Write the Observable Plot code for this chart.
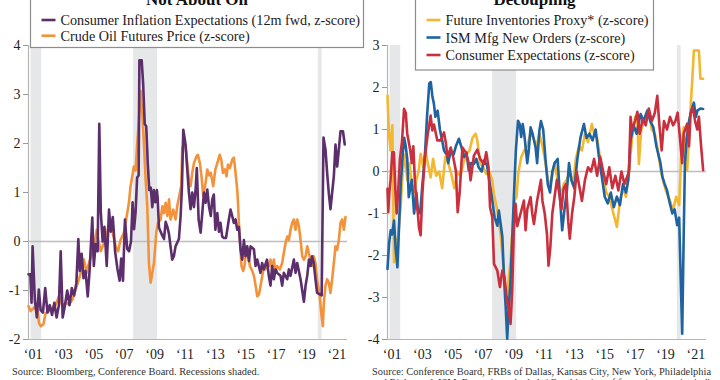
<!DOCTYPE html>
<html><head><meta charset="utf-8">
<script src="https://cdn.jsdelivr.net/npm/d3@7"></script>
<script src="https://cdn.jsdelivr.net/npm/@observablehq/plot@0.6"></script>
<style>
body{margin:0;background:#fff;}
#wrap{position:relative;width:720px;height:380px;overflow:hidden;font-family:"Liberation Serif",serif;}
.panel{position:absolute;top:0;}
#overlay{position:absolute;left:0;top:0;pointer-events:none;}
</style></head>
<body><div id="wrap"><div id="left" class="panel" style="left:0"></div><div id="right" class="panel" style="left:359px"></div></div>
<script>
// ---------- data ----------
const tickYears = [2001,2003,2005,2007,2009,2011,2013,2015,2017,2019,2021];
const recessions = [[2001.17,2001.87],[2007.92,2009.5],[2020.08,2020.33]];

// Left panel: Consumer Inflation Expectations (12m fwd, z-score)  [decimal year, z]
const inflExp = [[2001.0,-0.67],[2001.12,-0.67],[2001.2,-1.25],[2001.27,-0.1],[2001.42,-1.2],[2001.55,-1.55],[2001.68,-0.98],[2001.8,-1.4],[2001.95,-1.45],[2002.1,-0.95],[2002.25,-1.45],[2002.4,-1.3],[2002.55,-1.5],[2002.7,-1.25],[2002.85,-1.55],[2003.0,-1.3],[2003.12,-0.2],[2003.25,-1.55],[2003.4,-1.3],[2003.55,-1.0],[2003.7,-1.3],[2003.85,-0.95],[2004.0,-1.1],[2004.15,-0.85],[2004.28,0.05],[2004.38,-0.6],[2004.5,-0.25],[2004.62,-0.75],[2004.75,-0.6],[2004.9,-1.12],[2005.02,-0.6],[2005.2,0.49],[2005.3,-0.5],[2005.42,-0.05],[2005.55,-0.2],[2005.66,2.4],[2005.76,0.6],[2005.88,0.0],[2006.0,0.3],[2006.15,-0.5],[2006.3,0.65],[2006.42,0.2],[2006.55,0.5],[2006.7,-0.2],[2006.85,-0.55],[2007.0,-0.8],[2007.1,-0.35],[2007.22,-0.8],[2007.35,0.45],[2007.5,-0.15],[2007.62,-0.2],[2007.75,0.0],[2007.85,0.8],[2007.95,0.25],[2008.05,0.6],[2008.15,1.3],[2008.25,1.35],[2008.3,3.7],[2008.45,3.7],[2008.55,3.2],[2008.65,2.4],[2008.75,2.35],[2008.85,1.6],[2008.95,1.05],[2009.05,1.1],[2009.15,0.7],[2009.25,1.05],[2009.35,0.8],[2009.45,1.05],[2009.5,0.9],[2009.59,0.28],[2009.7,0.2],[2009.81,0.12],[2009.92,0.05],[2010.03,0.4],[2010.14,0.3],[2010.25,0.15],[2010.35,-0.1],[2010.46,-0.37],[2010.57,-0.3],[2010.68,-0.1],[2010.9,0.05],[2011.01,0.5],[2011.1,1.1],[2011.19,2.28],[2011.34,1.98],[2011.45,1.47],[2011.56,1.0],[2011.67,0.66],[2011.78,1.0],[2011.89,0.7],[2012.0,1.06],[2012.08,1.5],[2012.2,0.45],[2012.33,0.18],[2012.44,0.58],[2012.55,1.0],[2012.66,0.79],[2012.77,1.06],[2012.88,0.72],[2013.0,0.52],[2013.1,0.86],[2013.2,0.96],[2013.3,0.24],[2013.43,0.58],[2013.54,0.2],[2013.64,0.38],[2013.75,0.1],[2013.86,0.07],[2014.0,0.07],[2014.19,0.45],[2014.3,0.65],[2014.41,0.52],[2014.52,0.38],[2014.63,0.45],[2014.74,0.24],[2014.85,0.3],[2014.96,-0.17],[2015.07,-0.37],[2015.18,0.03],[2015.29,-0.3],[2015.4,-0.1],[2015.51,-0.4],[2015.62,-0.1],[2015.84,-0.16],[2015.95,-0.5],[2016.06,-0.37],[2016.27,-0.64],[2016.38,-0.44],[2016.49,-0.57],[2016.7,-0.37],[2016.82,-0.7],[2016.93,-0.9],[2017.04,-0.5],[2017.15,-0.77],[2017.26,-0.57],[2017.37,-0.64],[2017.59,-0.7],[2017.7,-0.9],[2017.81,-0.64],[2018.03,-0.77],[2018.14,-0.57],[2018.25,-0.7],[2018.47,-0.37],[2018.58,-0.64],[2018.69,-0.44],[2018.91,-0.77],[2019.13,-1.23],[2019.24,-0.9],[2019.35,-0.7],[2019.46,-0.37],[2019.57,-0.5],[2019.67,-0.3],[2019.78,-0.44],[2019.89,-0.77],[2020.0,-1.05],[2020.18,-1.08],[2020.3,-1.1],[2020.42,2.12],[2020.55,1.88],[2020.66,1.4],[2020.77,0.98],[2020.88,0.66],[2020.99,1.0],[2021.1,1.33],[2021.21,1.98],[2021.32,1.53],[2021.43,1.88],[2021.54,2.25],[2021.7,2.25],[2021.82,1.98]];

// Left panel: Crude Oil Futures Price (z-score)
const crudeOil = [[2001.0,-1.32],[2001.14,-1.42],[2001.36,-1.35],[2001.6,-1.4],[2001.69,-1.66],[2001.8,-1.73],[2001.98,-1.69],[2002.13,-1.46],[2002.35,-1.42],[2002.57,-1.35],[2002.79,-1.29],[2003.0,-1.12],[2003.12,-1.2],[2003.23,-1.32],[2003.45,-1.25],[2003.67,-1.29],[2003.9,-1.18],[2004.1,-0.98],[2004.32,-0.77],[2004.5,-0.57],[2004.65,-0.37],[2004.83,-0.64],[2004.98,-0.44],[2005.13,-0.3],[2005.3,-0.16],[2005.49,0.24],[2005.6,0.03],[2005.75,-0.2],[2005.97,-0.03],[2006.19,0.2],[2006.36,0.45],[2006.5,0.24],[2006.74,-0.1],[2006.9,-0.2],[2007.06,0.03],[2007.28,0.18],[2007.5,0.58],[2007.61,0.79],[2007.72,1.13],[2007.83,1.33],[2007.94,1.53],[2008.05,1.45],[2008.16,2.01],[2008.27,2.49],[2008.38,3.07],[2008.49,2.62],[2008.6,2.01],[2008.71,1.27],[2008.82,0.72],[2008.93,-0.44],[2009.04,-0.84],[2009.15,-0.64],[2009.26,-0.44],[2009.41,0.18],[2009.52,0.38],[2009.7,0.45],[2009.81,0.72],[2009.92,0.58],[2010.03,0.79],[2010.14,0.52],[2010.25,0.86],[2010.35,0.45],[2010.53,0.65],[2010.68,0.45],[2010.79,0.72],[2010.97,1.0],[2011.06,1.15],[2011.12,1.88],[2011.23,2.04],[2011.34,1.94],[2011.45,1.6],[2011.56,1.27],[2011.67,1.13],[2011.78,1.4],[2011.89,1.6],[2012.06,1.74],[2012.15,1.77],[2012.28,1.6],[2012.39,1.33],[2012.5,0.93],[2012.66,1.2],[2012.77,1.47],[2012.88,1.35],[2013.0,1.4],[2013.16,1.13],[2013.3,1.47],[2013.47,1.64],[2013.58,1.77],[2013.69,1.67],[2013.8,1.4],[2013.93,1.47],[2014.04,1.33],[2014.13,1.57],[2014.26,1.5],[2014.41,1.67],[2014.52,1.71],[2014.63,1.4],[2014.74,1.06],[2014.78,0.86],[2014.85,0.38],[2014.96,-0.17],[2015.02,-0.5],[2015.13,-0.6],[2015.22,-0.5],[2015.35,-0.1],[2015.44,-0.17],[2015.57,-0.5],[2015.73,-0.6],[2015.84,-0.7],[2015.95,-0.9],[2016.06,-1.12],[2016.17,-1.08],[2016.28,-0.9],[2016.39,-0.7],[2016.5,-0.5],[2016.6,-0.57],[2016.71,-0.44],[2016.82,-0.5],[2016.93,-0.37],[2017.04,-0.57],[2017.15,-0.37],[2017.26,-0.64],[2017.37,-0.5],[2017.55,-0.57],[2017.7,-0.44],[2017.81,-0.23],[2017.92,-0.03],[2018.03,0.1],[2018.14,0.03],[2018.25,0.24],[2018.36,0.38],[2018.47,0.45],[2018.58,0.24],[2018.69,0.45],[2018.8,0.31],[2018.91,0.03],[2019.02,-0.3],[2019.13,-0.37],[2019.24,-0.3],[2019.35,-0.1],[2019.45,-0.23],[2019.57,-0.37],[2019.68,-0.5],[2019.78,-0.3],[2019.89,-0.44],[2020.0,-0.77],[2020.15,-1.05],[2020.27,-1.45],[2020.38,-1.73],[2020.44,-1.25],[2020.55,-0.9],[2020.66,-0.77],[2020.77,-0.84],[2020.88,-1.05],[2020.99,-0.77],[2021.1,-0.44],[2021.21,-0.1],[2021.32,-0.17],[2021.43,0.03],[2021.54,0.38],[2021.65,0.45],[2021.76,0.24],[2021.87,0.5]];

// Right panel: Future Inventories Proxy* (z-score)
const futInv = [[2001.0,1.81],[2001.1,0.9],[2001.2,0.5],[2001.32,1.1],[2001.43,-2.16],[2001.55,-1.6],[2001.65,-2.0],[2001.75,-1.33],[2001.87,-0.8],[2002.0,0.0],[2002.15,0.4],[2002.3,-0.2],[2002.45,0.2],[2002.6,-0.3],[2002.75,-0.5],[2002.9,-0.2],[2003.05,0.0],[2003.18,0.42],[2003.35,0.1],[2003.5,0.5],[2003.65,0.2],[2003.84,-0.14],[2004.0,0.3],[2004.2,-0.1],[2004.4,0.0],[2004.6,-0.4],[2004.8,0.34],[2005.0,0.2],[2005.2,-0.06],[2005.4,-0.4],[2005.6,0.0],[2005.8,-0.1],[2006.0,0.2],[2006.2,0.42],[2006.4,0.5],[2006.6,0.81],[2006.8,0.9],[2006.91,0.74],[2007.1,0.2],[2007.3,0.1],[2007.5,-0.06],[2007.7,0.0],[2007.9,-0.21],[2008.0,-0.53],[2008.23,-0.93],[2008.45,-1.5],[2008.67,-2.44],[2008.78,-2.83],[2008.88,-3.0],[2008.99,-2.5],[2009.1,-2.12],[2009.21,-1.5],[2009.37,-0.69],[2009.5,-0.6],[2009.6,-0.06],[2009.8,0.34],[2010.0,0.5],[2010.2,0.6],[2010.4,0.9],[2010.6,0.8],[2010.8,0.6],[2011.0,0.9],[2011.2,0.6],[2011.4,0.2],[2011.6,-0.3],[2011.8,-0.2],[2012.0,0.2],[2012.2,-0.2],[2012.4,-0.6],[2012.6,-0.3],[2012.8,-0.2],[2013.0,0.0],[2013.2,-0.3],[2013.4,0.3],[2013.6,0.6],[2013.8,0.5],[2014.0,0.9],[2014.2,0.7],[2014.45,1.13],[2014.6,0.9],[2014.8,0.8],[2015.0,0.3],[2015.2,-0.1],[2015.4,-0.5],[2015.6,-0.6],[2015.8,-0.9],[2016.1,-1.32],[2016.3,-0.7],[2016.5,-0.4],[2016.7,-0.6],[2016.9,0.0],[2017.1,0.8],[2017.3,1.3],[2017.45,1.2],[2017.55,0.18],[2017.7,1.0],[2017.9,1.2],[2018.1,1.3],[2018.2,1.45],[2018.4,1.0],[2018.6,0.9],[2018.8,0.5],[2019.0,0.0],[2019.2,-0.3],[2019.4,-0.53],[2019.6,-0.7],[2019.8,-0.93],[2020.0,-0.6],[2020.2,-0.8],[2020.35,0.5],[2020.5,1.05],[2020.6,0.3],[2020.73,0.03],[2020.9,1.2],[2021.06,2.17],[2021.17,2.88],[2021.5,2.88],[2021.6,2.21],[2021.78,2.21]];

// Right panel: ISM Mfg New Orders (z-score)
const ismOrders = [[2001.0,-2.32],[2001.1,-1.72],[2001.21,-1.4],[2001.3,-1.5],[2001.43,-1.17],[2001.53,-1.8],[2001.65,-2.28],[2001.75,-1.4],[2001.87,-0.3],[2002.0,0.4],[2002.1,0.8],[2002.2,0.6],[2002.3,0.3],[2002.4,-0.61],[2002.5,-0.4],[2002.6,-0.2],[2002.75,-1.0],[2002.9,-0.5],[2003.0,-0.9],[2003.15,-1.0],[2003.3,-0.3],[2003.45,0.3],[2003.6,1.3],[2003.75,2.1],[2003.85,2.13],[2003.95,1.8],[2004.06,1.6],[2004.15,1.3],[2004.3,1.45],[2004.45,1.0],[2004.6,0.74],[2004.72,0.5],[2004.9,0.4],[2005.0,0.2],[2005.16,0.5],[2005.35,0.4],[2005.5,0.6],[2005.7,0.78],[2005.85,0.6],[2006.03,0.34],[2006.2,0.45],[2006.35,0.03],[2006.5,0.2],[2006.69,0.18],[2006.85,0.3],[2007.0,0.1],[2007.2,0.0],[2007.35,0.26],[2007.55,0.15],[2007.7,-0.2],[2007.9,-0.69],[2008.05,-1.09],[2008.23,-1.29],[2008.33,-0.93],[2008.45,-1.25],[2008.56,-1.56],[2008.67,-2.52],[2008.78,-3.23],[2008.88,-3.98],[2008.99,-3.2],[2009.1,-2.6],[2009.21,-1.6],[2009.32,-0.61],[2009.45,0.5],[2009.59,1.21],[2009.7,1.13],[2009.8,0.82],[2009.9,1.13],[2010.0,0.9],[2010.2,0.2],[2010.3,0.5],[2010.42,1.05],[2010.55,0.9],[2010.75,0.57],[2010.85,0.2],[2011.0,0.98],[2011.1,1.2],[2011.25,1.0],[2011.4,0.3],[2011.55,-0.3],[2011.7,-0.5],[2011.85,0.0],[2012.0,0.2],[2012.2,0.3],[2012.35,-0.6],[2012.5,-1.4],[2012.65,-0.9],[2012.8,-0.5],[2012.95,0.2],[2013.1,-0.2],[2013.3,-0.4],[2013.5,0.3],[2013.7,0.8],[2013.93,1.13],[2014.1,0.8],[2014.3,0.9],[2014.5,0.74],[2014.7,1.0],[2014.9,0.4],[2015.1,-0.1],[2015.3,-0.6],[2015.5,-0.76],[2015.7,-0.5],[2015.9,-0.85],[2016.1,-0.6],[2016.3,-0.8],[2016.5,-0.3],[2016.7,-0.5],[2016.85,-0.2],[2017.0,0.74],[2017.2,1.1],[2017.4,0.9],[2017.66,1.37],[2017.85,1.2],[2018.1,1.45],[2018.3,1.2],[2018.5,1.05],[2018.7,0.6],[2018.97,0.2],[2019.1,-0.13],[2019.25,-0.3],[2019.4,-0.45],[2019.55,-0.7],[2019.75,-1.0],[2019.9,-0.9],[2020.07,-1.28],[2020.2,-1.1],[2020.3,-2.5],[2020.4,-3.86],[2020.5,-1.5],[2020.58,0.2],[2020.7,0.8],[2020.85,1.2],[2021.0,1.45],[2021.17,1.64],[2021.3,1.3],[2021.4,1.45],[2021.6,1.5],[2021.78,1.49]];

// Right panel: Consumer Expectations (z-score)
const consExp = [[2001.0,-0.41],[2001.05,-0.97],[2001.12,-0.5],[2001.2,-0.2],[2001.32,0.46],[2001.42,0.46],[2001.52,-0.45],[2001.6,-1.0],[2001.7,-0.5],[2001.82,0.3],[2001.95,0.7],[2002.09,1.49],[2002.2,1.4],[2002.3,0.9],[2002.5,0.5],[2002.6,0.2],[2002.7,0.6],[2002.8,-0.2],[2002.9,-0.69],[2003.0,-1.0],[2003.07,-1.33],[2003.18,-1.52],[2003.3,-0.5],[2003.45,0.3],[2003.62,0.81],[2003.84,1.33],[2003.95,0.98],[2004.06,1.12],[2004.28,0.74],[2004.5,0.74],[2004.72,0.93],[2004.85,0.66],[2004.95,0.34],[2005.16,0.57],[2005.35,0.3],[2005.5,0.02],[2005.62,-0.97],[2005.75,-0.5],[2005.93,0.57],[2006.15,0.46],[2006.36,0.18],[2006.47,-0.21],[2006.69,0.38],[2006.91,0.52],[2007.1,0.3],[2007.35,0.18],[2007.5,0.46],[2007.65,0.1],[2007.75,-0.85],[2007.9,-1.09],[2008.01,-2.2],[2008.23,-2.36],[2008.4,-2.75],[2008.56,-2.36],[2008.7,-2.52],[2008.84,-2.99],[2008.99,-3.31],[2009.1,-3.63],[2009.21,-2.83],[2009.32,-1.33],[2009.43,-0.77],[2009.54,-1.3],[2009.76,-1.0],[2009.98,-0.69],[2010.09,-1.4],[2010.2,-0.9],[2010.42,-0.61],[2010.53,-1.0],[2010.64,-1.25],[2010.85,-0.69],[2011.0,-0.4],[2011.1,-0.2],[2011.2,-0.7],[2011.35,-1.0],[2011.5,-1.5],[2011.6,-2.24],[2011.72,-1.8],[2011.85,-1.0],[2012.0,-0.6],[2012.15,-0.2],[2012.3,-0.5],[2012.45,-0.9],[2012.6,-0.4],[2012.75,-0.3],[2012.9,-1.2],[2013.0,-1.6],[2013.15,-1.0],[2013.3,-0.6],[2013.45,0.0],[2013.6,-0.3],[2013.8,-0.7],[2014.0,-0.2],[2014.2,0.1],[2014.4,0.0],[2014.6,0.3],[2014.8,-0.1],[2015.0,0.35],[2015.2,0.0],[2015.4,-0.3],[2015.6,0.1],[2015.8,-0.4],[2016.0,-0.1],[2016.2,-0.45],[2016.4,0.0],[2016.6,-0.3],[2016.8,-0.1],[2016.9,0.0],[2017.0,1.3],[2017.1,1.0],[2017.3,1.2],[2017.45,1.42],[2017.6,0.9],[2017.8,1.25],[2018.0,1.1],[2018.2,1.5],[2018.4,1.2],[2018.6,1.4],[2018.76,1.8],[2018.9,1.1],[2019.05,0.5],[2019.2,1.2],[2019.4,1.0],[2019.6,1.3],[2019.8,1.1],[2019.95,1.2],[2020.1,1.4],[2020.25,0.8],[2020.4,0.2],[2020.5,0.9],[2020.73,1.14],[2020.85,0.6],[2020.95,1.37],[2021.1,1.53],[2021.25,1.2],[2021.39,1.0],[2021.5,1.3],[2021.65,0.58],[2021.78,0.03]];

const leftSeries = [
  {name: "Consumer Inflation Expectations (12m fwd, z-score)", color: "#5c2e6b", data: inflExp},
  {name: "Crude Oil Futures Price (z-score)", color: "#f3923a", data: crudeOil}
];
const rightSeries = [
  {name: "Future Inventories Proxy* (z-score)", color: "#f4b731", data: futInv},
  {name: "ISM Mfg New Orders (z-score)", color: "#1f63a1", data: ismOrders},
  {name: "Consumer Expectations (z-score)", color: "#c92f3c", data: consExp}
];
const leftTicks = [-2,-1,0,1,2,3,4];
const rightTicks = [-4,-3,-2,-1,0,1,2,3];

// ---------- chart ----------
const fmtY = d => d < 0 ? "-" + (-d) : String(d);
const fmtX = d => "\u2018" + String(Math.floor(d)).slice(2);

function panel(series, drawOrder, yTicks) {
  const yDom = [yTicks[0], yTicks[yTicks.length - 1]];
  return Plot.plot({
    width: 361, height: 380,
    marginLeft: 28, marginRight: 14, marginTop: 45, marginBottom: 41,
    style: {fontFamily: "'Liberation Serif', serif", fontSize: "14px", color: "#222", background: "transparent", overflow: "visible"},
    x: {domain: [2001, 2022], axis: null},
    y: {domain: yDom, axis: null},
    marks: [
      Plot.rect(recessions, {x1: d => d[0], x2: d => d[1], fill: "#e6e7e9"}),
      Plot.ruleY([0], {stroke: "#bdbdbd", strokeWidth: 1.5}),
      Plot.ruleY([yDom[0]], {stroke: "#b5b5b5", strokeWidth: 1.2}),
      Plot.ruleX([2001], {stroke: "#b5b5b5", strokeWidth: 1.2}),
      Plot.axisY({ticks: yTicks, tickFormat: fmtY, tickSize: 5, tickPadding: 3, stroke: "#999", fill: "#222", fontSize: 14}),
      Plot.axisX({ticks: tickYears.map(y => y + 0.3), tickFormat: fmtX, tickSize: 0, tickPadding: 10, fill: "#222", fontSize: 14}),
      ...drawOrder.map(i => Plot.line(series[i].data, {x: d => d[0], y: d => d[1], stroke: series[i].color, strokeWidth: 2.6, strokeLinejoin: "round"}))
    ]
  });
}

document.getElementById("left").appendChild(panel(leftSeries, [1, 0], leftTicks));
document.getElementById("right").appendChild(panel(rightSeries, [0, 1, 2], rightTicks));

// ---------- titles, legends, sources ----------
const svg = d3.select("#wrap").append("svg").attr("id", "overlay").attr("width", 720).attr("height", 380)
  .style("font-family", "'Liberation Serif', serif");

function legend(box, title, series, rows) {
  const g = svg.append("g");
  g.append("rect").attr("x", box.x).attr("y", -20).attr("width", box.w).attr("height", box.bottom + 20)
    .attr("fill", "#fff").attr("stroke", "#8c8c8c").attr("stroke-width", 1.2);
  g.append("text").attr("x", box.x + box.w / 2).attr("y", 5).attr("text-anchor", "middle")
    .attr("font-weight", "bold").attr("font-size", 17).attr("fill", "#111").text(title);
  series.forEach((s, i) => {
    const cy = rows[i];
    g.append("line").attr("x1", box.x + 11).attr("x2", box.x + 25).attr("y1", cy).attr("y2", cy)
      .attr("stroke", s.color).attr("stroke-width", 2.6);
    g.append("text").attr("x", box.x + 30).attr("y", cy + 5).attr("font-size", 14.2).attr("fill", "#1a1a1a").text(s.name);
  });
}
legend({x: 30.5, w: 333, bottom: 47.5}, "Not About Oil", leftSeries, [20, 35.7]);
legend({x: 415.5, w: 238, bottom: 70}, "Decoupling", rightSeries, [20, 37.5, 55]);

const src = svg.append("g").attr("font-size", 10.4).attr("fill", "#333").style("white-space", "pre");
src.append("text").attr("x", 12).attr("y", 375).text("Source:  Bloomberg, Conference Board. Recessions shaded.");
src.append("text").attr("x", 372).attr("y", 375).text("Source:  Conference Board, FRBs of Dallas, Kansas City, New York, Philadelphia");
src.append("text").attr("x", 372).attr("y", 386).text("and Richmond, ISM. Recessions shaded. *Combination of future inventories indices");
</script></body></html>
